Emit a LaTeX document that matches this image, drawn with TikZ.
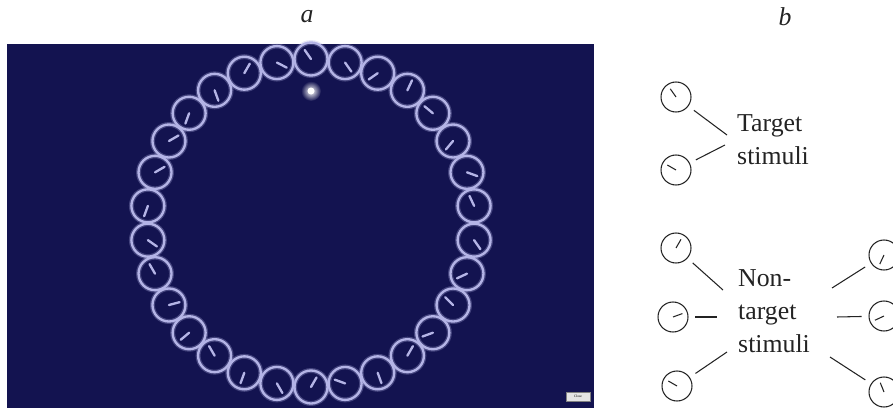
\documentclass[tikz,border=0pt]{standalone}
\usepackage{fontspec}
\setmainfont{Liberation Serif}
\usepackage{xcolor}
\definecolor{navybg}{RGB}{19,19,80}
\definecolor{ringcol}{RGB}{180,180,230}
\definecolor{inkgray}{RGB}{35,35,35}
\definecolor{btngray}{RGB}{228,228,228}

\tikzset{
  stimclock/.style={circle, draw=inkgray, line width=0.9pt, minimum size=0.9cm, inner sep=0pt, outer sep=0.22cm},
  stimline/.style={inkgray, line width=0.9pt},
  stimtext/.style={font=\fontsize{22}{28}\selectfont, text=inkgray, align=left, inner sep=0pt, anchor=west},
  panellbl/.style={font=\fontsize{22}{26}\selectfont\itshape, text=inkgray}
}

\begin{document}
\begin{tikzpicture}[x=0.03cm, y=0.03cm]

\useasboundingbox (0,0) rectangle (893,408);

% Panel labels
\node[panellbl] (labela) at (307,391) {a};
\node[panellbl] (labelb) at (785,391) {b};

% Panel a: background
\fill[navybg] (7,0) rectangle (594,364);

% Ring of clocks
\begin{scope}[shift={(311,185)}]
\foreach \k/\h in {
0/125, 1/333, 2/60, 3/290, 4/250, 5/30,
6/30, 7/250, 8/325, 9/120, 10/15, 11/220,
12/120, 13/250, 14/300, 15/60, 16/160, 17/290,
18/60, 19/200, 20/135, 21/205, 22/305, 23/115,
24/340, 25/230, 26/140, 27/65, 28/215, 29/305
}{
\draw[ringcol, opacity=0.3, line width=4.2pt] ({90+12*\k}:164) circle (16.5);
\draw[ringcol, line width=2pt] ({90+12*\k}:164) circle (16.5);
\draw[ringcol, line width=2pt, line cap=round] ({90+12*\k}:164) -- ++(\h:11);
}
\end{scope}

% Glowing dot
\shade[inner color=white, outer color=navybg] (311,317) circle (10);
\fill[white] (311,317) circle (3.5);

% Close button
\node[draw=gray, fill=btngray, minimum width=0.72cm, minimum height=0.27cm, inner sep=0pt,
  font=\fontsize{3}{3}\selectfont] (closebtn) at (578,11.5) {Close};

% Panel b: target stimuli
\node[stimclock] (tgt1) at (676,311) {};
\node[stimclock] (tgt2) at (676,238) {};
\draw[stimline] (tgt1.center) -- ++(125:10);
\draw[stimline] (tgt2.center) -- ++(150:10);
\node[stimtext] (tgttext) at (737,268) {Target\\stimuli};
\coordinate (tgt1end) at (727,273);
\coordinate (tgt2end) at (725,263);
\draw[stimline] (tgt1) -- (tgt1end);
\draw[stimline] (tgt2) -- (tgt2end);

% Panel b: non-target stimuli
\node[stimclock] (non1) at (676,160) {};
\node[stimclock] (non2) at (673,91) {};
\node[stimclock] (non3) at (677,22) {};
\node[stimclock] (non4) at (884,153) {};
\node[stimclock] (non5) at (884,92) {};
\node[stimclock] (non6) at (884,16) {};
\foreach \n/\h in {non1/60, non2/20, non3/150, non4/245, non5/205, non6/112}{
\draw[stimline] (\n.center) -- ++(\h:10);
}
\node[stimtext] (nontext) at (738,97) {Non-\\target\\stimuli};
\coordinate (non1end) at (723,118);
\coordinate (non2end) at (717,91);
\coordinate (non3end) at (727,56);
\coordinate (non4end) at (832,120);
\coordinate (non5end) at (837,91);
\coordinate (non6end) at (830,51);
\foreach \n in {non1, non2, non3, non4, non5, non6}{
\draw[stimline] (\n) -- (\n end);
}

\end{tikzpicture}
\end{document}
